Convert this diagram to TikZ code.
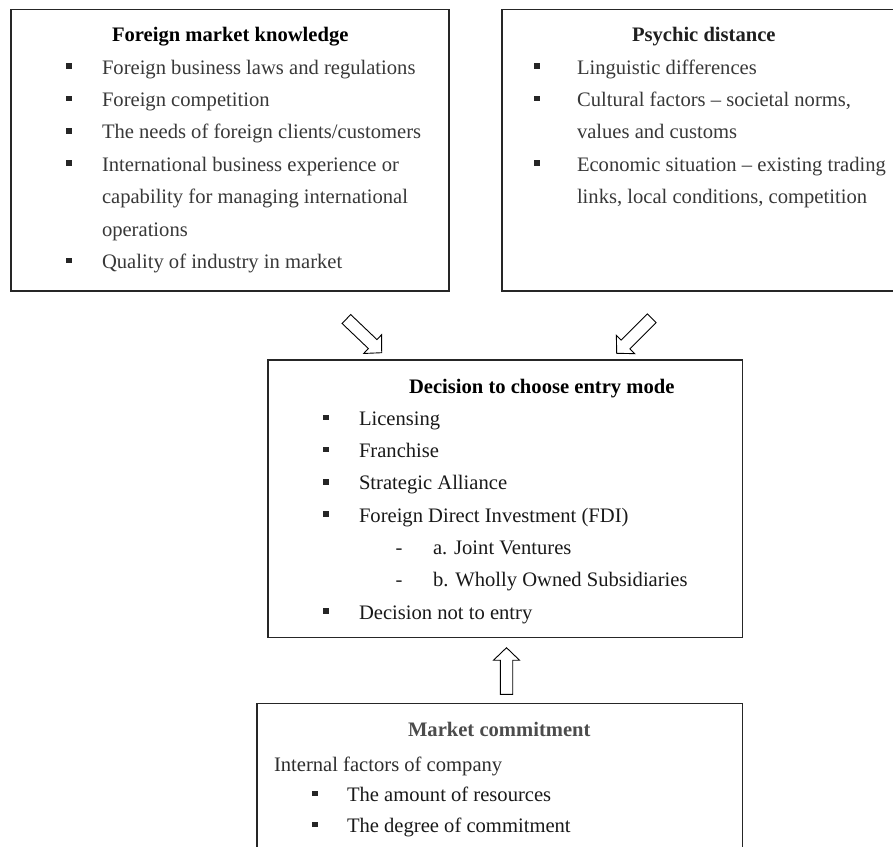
\documentclass[tikz,border=0pt]{standalone}
\usepackage{fontspec}
\setmainfont{Liberation Serif}
\usetikzlibrary{calc}
\tikzset{
  box/.style={draw=black!85, line width=1.2pt, fill=none, rectangle, inner sep=0pt, outer sep=0pt},
  txt/.style={inner sep=0pt, outer sep=0pt, anchor=base west, font=\fontsize{20.6pt}{24pt}\selectfont},
  head/.style={txt, font=\fontsize{20.6pt}{24pt}\selectfont\bfseries, text=black},
  itm/.style={txt, text=black!78},
  ditm/.style={txt, text=black!90},
  bul/.style={rectangle, fill=black!85, minimum size=5.5pt, inner sep=0pt, outer sep=0pt},
  dsh/.style={txt, anchor=base, text=black!85},
  arrowstyle/.style={draw=black, line width=0.9pt, fill=white, line join=miter},
}
\newcommand\blockarr[2]{%
  \coordinate (#1-h) at ($(#2)!12.5pt!(#1)$);
  \draw[arrowstyle] ($(#1)!6.2pt!90:(#2)$) -- ($(#1-h)!6.2pt!90:(#2)$) -- ($(#1-h)!13pt!90:(#2)$)
    -- (#2) -- ($(#1-h)!13pt!-90:(#2)$) -- ($(#1-h)!6.2pt!-90:(#2)$) -- ($(#1)!6.2pt!-90:(#2)$) -- cycle;
}
\begin{document}
\begin{tikzpicture}[x=1pt,y=-1pt]
\useasboundingbox (0,0) rectangle (893,846);
\clip (0,0) rectangle (893,846);
\fill[white] (0,0) rectangle (893,846);

% boxes
\node[box, anchor=north west, minimum width=438pt, minimum height=281.5pt] (fmk) at (11,9.5) {};
\node[box, anchor=north west, minimum width=410pt, minimum height=281.5pt] (pd) at (502,9.5) {};
\node[box, anchor=north west, minimum width=474.3pt, minimum height=277.5pt] (dec) at (268,360) {};
\node[box, anchor=north west, minimum width=485.3pt, minimum height=170pt] (mc) at (257,703.5) {};

% Foreign market knowledge
\node[head] (fmkh) at (112,41.7) {Foreign market knowledge};
\node[bul] (fb1) at (69,66) {};
\node[itm] (f1) at (102,74) {Foreign business laws and regulations};
\node[bul] (fb2) at (69,98.4) {};
\node[itm] (f2) at (102,106.4) {Foreign competition};
\node[bul] (fb3) at (69,130.8) {};
\node[itm] (f3) at (102,138.8) {The needs of foreign clients/customers};
\node[bul] (fb4) at (69,163.2) {};
\node[itm] (f4) at (102,171.2) {International business experience or};
\node[itm] (f5) at (102,203.6) {capability for managing international};
\node[itm] (f6) at (102,236) {operations};
\node[bul] (fb7) at (69,260.4) {};
\node[itm] (f7) at (102,268.4) {Quality of industry in market};

% Psychic distance
\node[head, text=black!88] (pdh) at (632,41.7) {Psychic distance};
\node[bul] (pb1) at (537,66) {};
\node[itm] (p1) at (577,74) {Linguistic differences};
\node[bul] (pb2) at (537,98.4) {};
\node[itm] (p2) at (577,106.4) {Cultural factors -- societal norms,};
\node[itm] (p3) at (577,138.8) {values and customs};
\node[bul] (pb4) at (537,163.2) {};
\node[itm] (p4) at (577,171.2) {Economic situation -- existing trading};
\node[itm] (p5) at (577,203.6) {links, local conditions, competition};

% Decision
\node[head] (dech) at (409,393) {Decision to choose entry mode};
\node[bul] (db1) at (326,417.3) {};
\node[ditm] (d1) at (359,425.3) {Licensing};
\node[bul] (db2) at (326,449.6) {};
\node[ditm] (d2) at (359,457.6) {Franchise};
\node[bul] (db3) at (326,481.9) {};
\node[ditm] (d3) at (359,489.9) {Strategic Alliance};
\node[bul] (db4) at (326,514.2) {};
\node[ditm] (d4) at (359,522.2) {Foreign Direct Investment (FDI)};
\node[dsh] (dd5) at (399,554.5) {-};
\node[ditm] (d5) at (433,554.5) {a. Joint Ventures};
\node[dsh] (dd6) at (399,586.8) {-};
\node[ditm] (d6) at (433,586.8) {b. Wholly Owned Subsidiaries};
\node[bul] (db7) at (326,611.1) {};
\node[ditm] (d7) at (359,619.1) {Decision not to entry};

% Market commitment
\node[head, text=black!70] (mch) at (408,736.7) {Market commitment};
\node[txt, text=black!82] (m0) at (274,771.7) {Internal factors of company};
\node[bul] (mb1) at (315,793.5) {};
\node[ditm] (m1) at (347,801.7) {The amount of resources};
\node[bul] (mb2) at (315,824.3) {};
\node[ditm] (m2) at (347,832.5) {The degree of commitment};

% block arrows
\coordinate (a1) at (346.4,319);
\coordinate (b1) at (381.7,352.7);
\coordinate (a2) at (651.7,318.3);
\coordinate (b2) at (616.7,353.3);
\coordinate (a3) at (506.5,694.3);
\coordinate (b3) at (506.5,647.7);
\blockarr{a1}{b1}
\blockarr{a2}{b2}
\blockarr{a3}{b3}
\end{tikzpicture}
\end{document}
